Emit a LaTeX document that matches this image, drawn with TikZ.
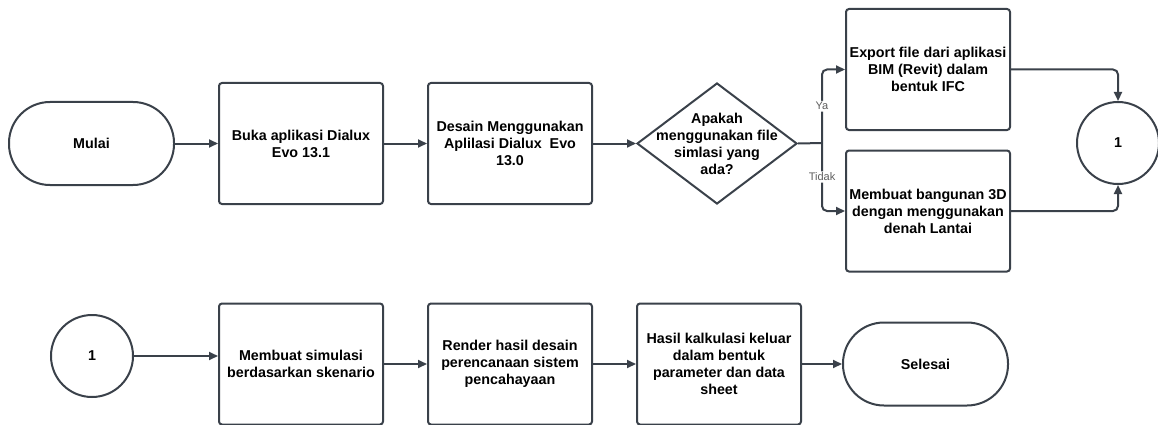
\documentclass[tikz,border=0pt]{standalone}
\usepackage{fontspec}
\setmainfont{Liberation Sans}
\usetikzlibrary{arrows.meta, positioning, shapes.geometric}
\definecolor{edgegray}{HTML}{3A414A}
\definecolor{lblgray}{HTML}{5E5E5E}

\begin{document}
\begin{tikzpicture}[x=1pt, y=-1pt, node distance=43pt,
  shapebase/.style={draw=edgegray, line width=2pt, align=center, text=black,
    font=\fontsize{14.3}{17}\selectfont\bfseries},
  proc/.style={shapebase, rectangle, rounded corners=3pt, minimum width=164pt, minimum height=121pt, inner sep=2pt},
  term/.style={shapebase, rectangle, rounded corners=41pt, minimum width=165pt, minimum height=83pt},
  konektor/.style={shapebase, circle, minimum size=82pt, inner sep=0pt},
  decision/.style={shapebase, diamond, aspect=1.32, minimum width=160pt, minimum height=121pt, inner sep=-14pt},
  flow/.style={draw=edgegray, line width=2pt, rounded corners=5pt, -{Triangle[length=9pt, width=8pt]}},
  lbl/.style={fill=white, text=lblgray, font=\fontsize{11}{12}\selectfont, inner sep=1.5pt}]
  \useasboundingbox (0,0) rectangle (1158,425);

  % Top row
  \node[term] (mulai) at (91.5,143.5) {Mulai};
  \node[proc, right=of mulai] (buka) {Buka aplikasi Dialux\\Evo 13.1};
  \node[proc, right=of buka] (desain) {Desain Menggunakan\\Aplilasi Dialux\ \ Evo\\13.0};
  \node[decision, right=of desain] (cek) {Apakah\\menggunakan file\\simlasi yang\\ada?};
  \coordinate (cabang) at (822,143);

  % Branches
  \node[proc] (ekspor) at (928,69.5) {Export file dari aplikasi\\BIM (Revit) dalam\\bentuk IFC};
  \node[proc] (bangun) at (928,211) {Membuat bangunan 3D\\dengan menggunakan\\denah Lantai};
  \node[konektor] (konA) at (1118,143) {1};

  % Bottom row
  \node[konektor] (konB) at (92,356) {1};
  \node[proc] (simulasi) at (301,364) {Membuat simulasi\\berdasarkan skenario};
  \node[proc, right=of simulasi] (render) {Render hasil desain\\perencanaan sistem\\pencahayaan};
  \node[proc, right=of render] (hasil) {Hasil kalkulasi keluar\\dalam bentuk\\parameter dan data\\sheet};
  \node[term, right=40pt of hasil] (selesai) {Selesai};

  % Connectors
  \draw[flow] (mulai) -- (buka);
  \draw[flow] (buka) -- (desain);
  \draw[flow] (desain) -- (cek);
  \draw[draw=edgegray, line width=2pt] (cek.east) -- (cabang);
  \draw[flow] (cabang) |- node[lbl, pos=0.25]{Ya} (ekspor);
  \draw[flow] (cabang) |- node[lbl, pos=0.25]{Tidak} (bangun);
  \draw[flow] (ekspor) -| (konA);
  \draw[flow] (bangun) -| (konA);
  \draw[flow] (konB) -- (konB -| simulasi.west);
  \draw[flow] (simulasi) -- (render);
  \draw[flow] (render) -- (hasil);
  \draw[flow] (hasil) -- (selesai);
\end{tikzpicture}
\end{document}
